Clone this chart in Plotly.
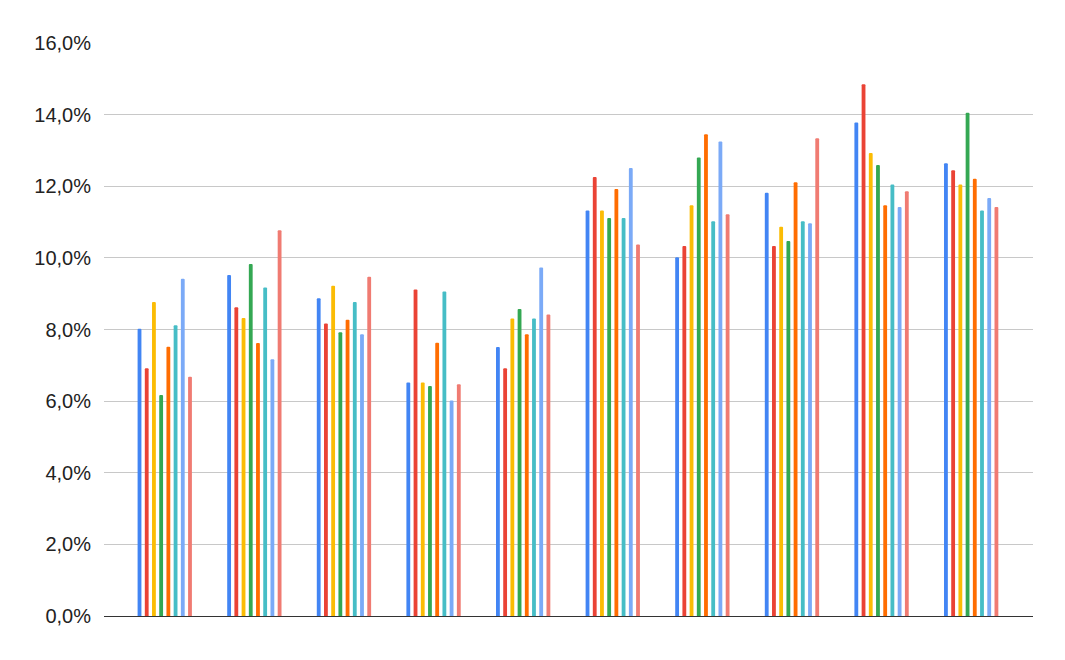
import plotly.graph_objects as go

categories = ["1", "2", "3", "4", "5", "6", "7", "8", "9", "10"]

series_names = ["Serie 1", "Serie 2", "Serie 3", "Serie 4", "Serie 5", "Serie 6", "Serie 7", "Serie 8"]
series_colors = ["#4285F4", "#EA4335", "#FBBC04", "#34A853", "#FF6D01", "#46BDC6", "#7BAAF7", "#F07B72"]

s1 = [8.02, 9.52, 8.87, 6.52, 7.51, 11.32, 10.02, 11.82, 13.78, 12.64]
s2 = [6.92, 8.62, 8.17, 9.12, 6.92, 12.26, 10.33, 10.33, 14.85, 12.45]
s3 = [8.77, 8.32, 9.22, 6.52, 8.31, 11.32, 11.47, 10.87, 12.93, 12.05]
s4 = [6.17, 9.83, 7.92, 6.42, 8.57, 11.11, 12.80, 10.47, 12.59, 14.05]
s5 = [7.52, 7.62, 8.27, 7.63, 7.87, 11.92, 13.45, 12.11, 11.47, 12.21]
s6 = [8.12, 9.17, 8.77, 9.06, 8.31, 11.11, 11.02, 11.02, 12.05, 11.32]
s7 = [9.42, 7.17, 7.87, 6.02, 9.73, 12.51, 13.25, 10.97, 11.42, 11.67]
s8 = [6.68, 10.77, 9.47, 6.47, 8.42, 10.37, 11.22, 13.34, 11.86, 11.42]

all_series = [s1, s2, s3, s4, s5, s6, s7, s8]

fig = go.Figure()
for name, color, vals in zip(series_names, series_colors, all_series):
    fig.add_trace(go.Bar(
        x=categories, y=vals, name=name,
        marker=dict(color=color, line=dict(width=0), cornerradius=2),
    ))

fig.update_layout(
    width=1065, height=660,
    margin=dict(l=96, r=40, t=35, b=52, pad=0),
    paper_bgcolor="white", plot_bgcolor="white",
    barmode="group", bargap=0.356, bargroupgap=0.47,
    showlegend=False,
    separators=",.",
    font=dict(family="Liberation Sans, Arial, sans-serif", size=20, color="#222222"),
    xaxis=dict(
        type="category", range=[-0.678, 9.69],
        showticklabels=False, showgrid=False, ticks="",
        showline=True, linecolor="#333333", linewidth=1,
        zeroline=False,
    ),
    yaxis=dict(
        range=[0, 16], dtick=2, tick0=0,
        tickformat=".1f", ticksuffix="%",
        showgrid=True, gridcolor="#c8c8c8", gridwidth=1,
        zeroline=True, zerolinecolor="#333333", zerolinewidth=1,
        showline=False, ticks="", ticklabelstandoff=12,
    ),
)

fig.write_html("out.html")
